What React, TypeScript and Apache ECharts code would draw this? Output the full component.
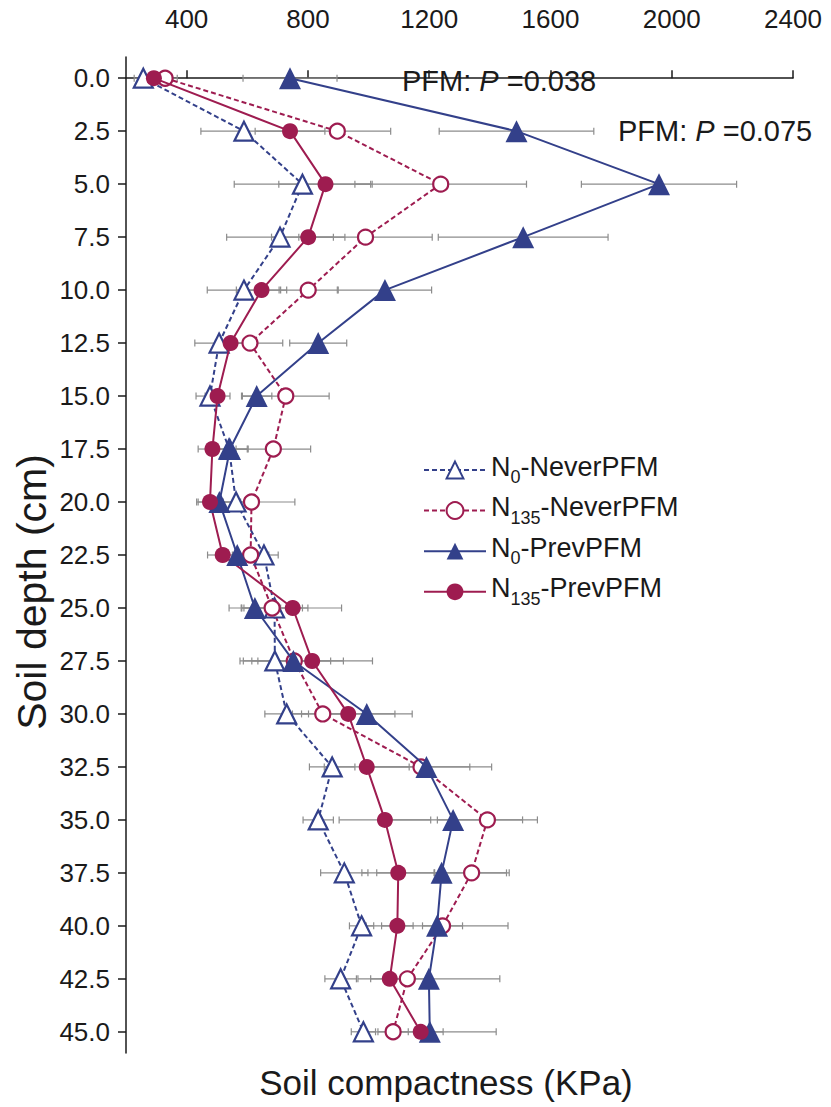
import React, { useEffect, useRef } from "react";
import * as echarts from "echarts";

const depths = [0, 2.5, 5, 7.5, 10, 12.5, 15, 17.5, 20, 22.5, 25, 27.5, 30, 32.5, 35, 37.5, 40, 42.5, 45];

const n0Never = [257, 589, 782, 708, 589, 507, 477, 540, 563, 655, 690, 691, 730, 880, 834, 920, 977, 908, 983];
const n135Never = [329, 897, 1238, 990, 801, 609, 727, 686, 614, 611, 682, 755, 849, 1173, 1392, 1340, 1244, 1128, 1081];
const n0Prev = [741, 1488, 1958, 1510, 1054, 834, 631, 543, 508, 567, 625, 752, 994, 1191, 1279, 1241, 1226, 1199, 1202];
const n135Prev = [292, 741, 858, 801, 647, 545, 502, 485, 477, 519, 750, 814, 933, 994, 1054, 1098, 1095, 1070, 1172];

const n0NeverErr = [30, 142, 225, 176, 121, 80, 46, 60, 50, 47, 110, 115, 72, 75, 50, 78, 40, 52, 40];
const n135NeverErr = [40, 176, 283, 220, 96, 108, 143, 123, 143, 60, 100, 120, 100, 161, 165, 124, 66, 60, 50];
const n0PrevErr = [155, 255, 256, 280, 154, 94, 50, 60, 70, 70, 85, 165, 150, 215, 229, 214, 234, 234, 219];
const n135PrevErr = [40, 115, 154, 121, 83, 50, 41, 47, 44, 50, 161, 199, 154, 140, 151, 120, 52, 63, 74];

const xTicks = [400, 800, 1200, 1600, 2000, 2400];
const yTicks = [0, 2.5, 5, 7.5, 10, 12.5, 15, 17.5, 20, 22.5, 25, 27.5, 30, 32.5, 35, 37.5, 40, 42.5, 45];

const NAVY = "#33408a";
const CRIMSON = "#9e1c50";
const FONT = "Liberation Sans, Arial, sans-serif";
const INK = "#1a1a1a";

export default function App() {
  const ref = useRef<HTMLDivElement>(null);
  useEffect(() => {
    if (!ref.current) return;
    const chart = echarts.init(ref.current, null, { renderer: "svg" });

    const pairs = (vals: number[]) => vals.map((v, i) => [v, depths[i]]);
    const errPairs = (vals: number[], errs: number[]) => vals.map((v, i) => [v, depths[i], errs[i]]);

    const errSeries = (name: string, vals: number[], errs: number[]) => ({
      type: "custom",
      name: name + "-err",
      z: 1,
      silent: true,
      encode: { x: 0, y: 1 },
      data: errPairs(vals, errs),
      renderItem: (params: any, api: any) => {
        const v = api.value(0);
        const d = api.value(1);
        const e = api.value(2);
        const p1 = api.coord([v - e, d]);
        const p2 = api.coord([v + e, d]);
        const h = 3.5;
        const st = { stroke: "#8c8c8c", lineWidth: 1.2 };
        return {
          type: "group",
          children: [
            { type: "line", shape: { x1: p1[0], y1: p1[1], x2: p2[0], y2: p2[1] }, style: st },
            { type: "line", shape: { x1: p1[0], y1: p1[1] - h, x2: p1[0], y2: p1[1] + h }, style: st },
            { type: "line", shape: { x1: p2[0], y1: p2[1] - h, x2: p2[0], y2: p2[1] + h }, style: st },
          ],
        };
      },
    });

    const pText = (p: string) => ({
      text: "{a|PFM: }{i|P}{a| =" + p + "}",
      rich: {
        a: { fontSize: 29, fontFamily: FONT, fill: INK },
        i: { fontSize: 29, fontFamily: FONT, fill: INK, fontStyle: "italic" },
      },
    });

    const option: any = {
      animation: false,
      grid: { left: 126, top: 57, right: 38, bottom: 54 },
      xAxis: {
        type: "value",
        position: "top",
        min: 200,
        max: 2400,
        splitLine: { show: false },
        axisLine: { show: true, lineStyle: { color: INK, width: 1.5 } },
        axisTick: { show: true, inside: false, length: 8, customValues: xTicks, lineStyle: { color: INK, width: 1.5 } },
        axisLabel: {
          customValues: xTicks,
          fontSize: 26,
          fontFamily: FONT,
          color: INK,
          margin: 25,
          formatter: (v: number) => String(v),
        },
      },
      yAxis: {
        type: "value",
        inverse: true,
        min: -1,
        max: 46,
        splitLine: { show: false },
        axisLine: { show: true, lineStyle: { color: INK, width: 1.5 } },
        axisTick: { show: true, inside: false, length: 8, customValues: yTicks, lineStyle: { color: INK, width: 1.5 } },
        axisLabel: {
          customValues: yTicks,
          fontSize: 26,
          fontFamily: FONT,
          color: INK,
          margin: 16,
          formatter: (v: number) => v.toFixed(1),
        },
      },
      legend: {
        orient: "vertical",
        left: 418,
        top: 448,
        itemWidth: 62,
        itemHeight: 21,
        itemGap: 7.6,
        data: ["N0-NeverPFM", "N135-NeverPFM", "N0-PrevPFM", "N135-PrevPFM"],
        formatter: (name: string) => {
          const m = name.match(/^N(\d+)(-.*)$/);
          if (!m) return name;
          return "{n|N}{s|" + m[1] + "}{n|" + m[2] + "}";
        },
        textStyle: {
          rich: {
            n: { fontSize: 27, fontFamily: FONT, color: INK, lineHeight: 34, verticalAlign: "top" },
            s: { fontSize: 18, fontFamily: FONT, color: INK, lineHeight: 18, padding: [15, 0, 0, 0], verticalAlign: "top" },
          },
        },
      },
      graphic: [
        { type: "text", left: 402, top: 66, style: pText("0.038") },
        { type: "text", left: 618, top: 116, style: pText("0.075") },
        {
          type: "text",
          x: 446,
          y: 1082,
          style: {
            text: "Soil compactness (KPa)",
            fontSize: 35,
            fontFamily: FONT,
            fill: INK,
            align: "center",
            verticalAlign: "middle",
          },
        },
        {
          type: "text",
          x: 32,
          y: 592,
          rotation: Math.PI / 2,
          style: {
            text: "Soil depth (cm)",
            fontSize: 41,
            fontFamily: FONT,
            fill: INK,
            align: "center",
            verticalAlign: "middle",
          },
        },
      ],
      series: [
        errSeries("N0-NeverPFM", n0Never, n0NeverErr),
        errSeries("N135-NeverPFM", n135Never, n135NeverErr),
        errSeries("N0-PrevPFM", n0Prev, n0PrevErr),
        errSeries("N135-PrevPFM", n135Prev, n135PrevErr),
        {
          type: "line",
          name: "N0-NeverPFM",
          z: 3,
          data: pairs(n0Never),
          symbol: "triangle",
          symbolSize: 19,
          lineStyle: { color: NAVY, width: 2, type: [5, 3] },
          itemStyle: { color: "#ffffff", borderColor: NAVY, borderWidth: 2.2 },
        },
        {
          type: "line",
          name: "N135-NeverPFM",
          z: 3,
          data: pairs(n135Never),
          symbol: "circle",
          symbolSize: 15,
          lineStyle: { color: CRIMSON, width: 2, type: [5, 3] },
          itemStyle: { color: "#ffffff", borderColor: CRIMSON, borderWidth: 2.2 },
        },
        {
          type: "line",
          name: "N0-PrevPFM",
          z: 4,
          data: pairs(n0Prev),
          symbol: "triangle",
          symbolSize: 22,
          lineStyle: { color: NAVY, width: 2 },
          itemStyle: { color: NAVY, borderColor: NAVY, borderWidth: 0 },
        },
        {
          type: "line",
          name: "N135-PrevPFM",
          z: 4,
          data: pairs(n135Prev),
          symbol: "circle",
          symbolSize: 16,
          lineStyle: { color: CRIMSON, width: 2 },
          itemStyle: { color: CRIMSON, borderColor: CRIMSON, borderWidth: 0 },
        },
      ],
    };
    chart.setOption(option);
    return () => chart.dispose();
  }, []);
  return <div ref={ref} style={{ position: "fixed", left: 0, top: 0, width: 831, height: 1107, background: "#ffffff" }} />;
}
